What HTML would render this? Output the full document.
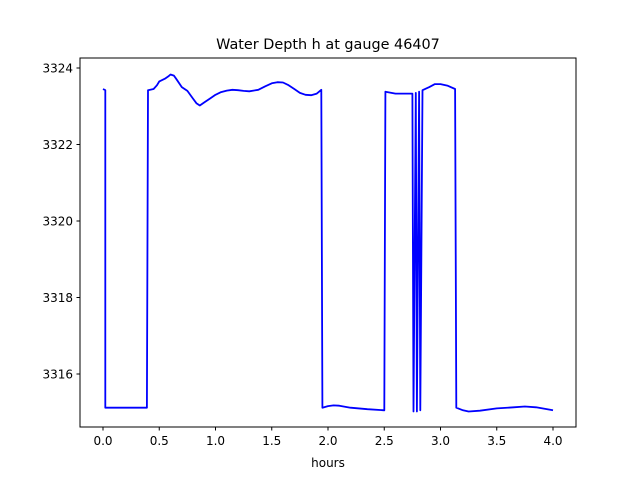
<!DOCTYPE html>
<html><head><meta charset="utf-8"><style>
body{margin:0;background:#fff}
svg{display:block;font-family:"DejaVu Sans","Liberation Sans",sans-serif}
</style></head><body>
<svg id="chart" width="640" height="480">
<rect width="640" height="480" fill="#fff"/>
<text x="328" y="49" text-anchor="middle" font-size="14.4">Water Depth h at gauge 46407</text>
<g id="plot"></g>
<rect x="80" y="58" width="496" height="369" fill="none" stroke="#000" stroke-width="1"/>
<text x="328" y="467" text-anchor="middle" font-size="12">hours</text>
</svg>
<script>
const times=[0.0,0.02,0.02,0.39,0.40,0.45,0.48,0.5,0.55,0.58,0.6,0.63,0.65,0.7,0.75,0.8,0.83,0.86,0.9,0.95,1.0,1.05,1.1,1.15,1.2,1.25,1.3,1.38,1.44,1.5,1.55,1.6,1.65,1.7,1.75,1.8,1.85,1.9,1.94,1.95,2.0,2.05,2.1,2.2,2.35,2.5,2.51,2.6,2.75,2.76,2.78,2.79,2.81,2.82,2.84,2.9,2.95,3.0,3.06,3.13,3.14,3.2,3.25,3.35,3.5,3.65,3.75,3.85,4.0];
const depths=[3323.45,3323.42,3315.12,3315.12,3323.42,3323.45,3323.55,3323.65,3323.72,3323.78,3323.83,3323.8,3323.72,3323.5,3323.4,3323.2,3323.08,3323.02,3323.1,3323.2,3323.3,3323.37,3323.41,3323.43,3323.42,3323.4,3323.39,3323.43,3323.52,3323.6,3323.63,3323.62,3323.55,3323.45,3323.35,3323.3,3323.29,3323.33,3323.43,3315.12,3315.16,3315.18,3315.17,3315.12,3315.08,3315.05,3323.38,3323.33,3323.33,3315.02,3323.35,3315.02,3323.38,3315.05,3323.42,3323.5,3323.58,3323.58,3323.54,3323.45,3315.12,3315.05,3315.02,3315.04,3315.1,3315.13,3315.15,3315.13,3315.05];
const xTicks=[0.0,0.5,1.0,1.5,2.0,2.5,3.0,3.5,4.0];
const xTickLabels=["0.0","0.5","1.0","1.5","2.0","2.5","3.0","3.5","4.0"];
const yTicks=[3316,3318,3320,3322,3324];
const yTickLabels=["3316","3318","3320","3322","3324"];
const NS="http://www.w3.org/2000/svg";
const xs=t=>103+(t-0)*112.5;
const ys=v=>374-(v-3316)*38.25;
const g=document.getElementById('plot');
function mk(tag,attrs){const e=document.createElementNS(NS,tag);for(const k in attrs)e.setAttribute(k,attrs[k]);return e;}
xTicks.forEach((t,i)=>{
  const l=mk('line',{x1:xs(t),x2:xs(t),y1:427,y2:430.5,stroke:'#000'});
  
  
  g.appendChild(l);
  const tx=mk('text',{x:xs(t),y:445,'text-anchor':'middle','font-size':12});
  
  
  tx.textContent=xTickLabels[i];g.appendChild(tx);
});
yTicks.forEach((v,i)=>{
  const l=mk('line',{x1:76.5,x2:80,y1:ys(v),y2:ys(v),stroke:'#000'});
  
  
  g.appendChild(l);
  const tx=mk('text',{x:73,y:ys(v)+4.5,'text-anchor':'end','font-size':12});
  
  
  tx.textContent=yTickLabels[i];g.appendChild(tx);
});
const pts=times.map((t,i)=>xs(t).toFixed(1)+','+ys(depths[i]).toFixed(1)).join(' ');
const pl=mk('polyline',{points:pts,fill:'none',stroke:'#0000ff','stroke-width':1.8,'stroke-linejoin':'round'});


g.appendChild(pl);
</script>
</body></html>
